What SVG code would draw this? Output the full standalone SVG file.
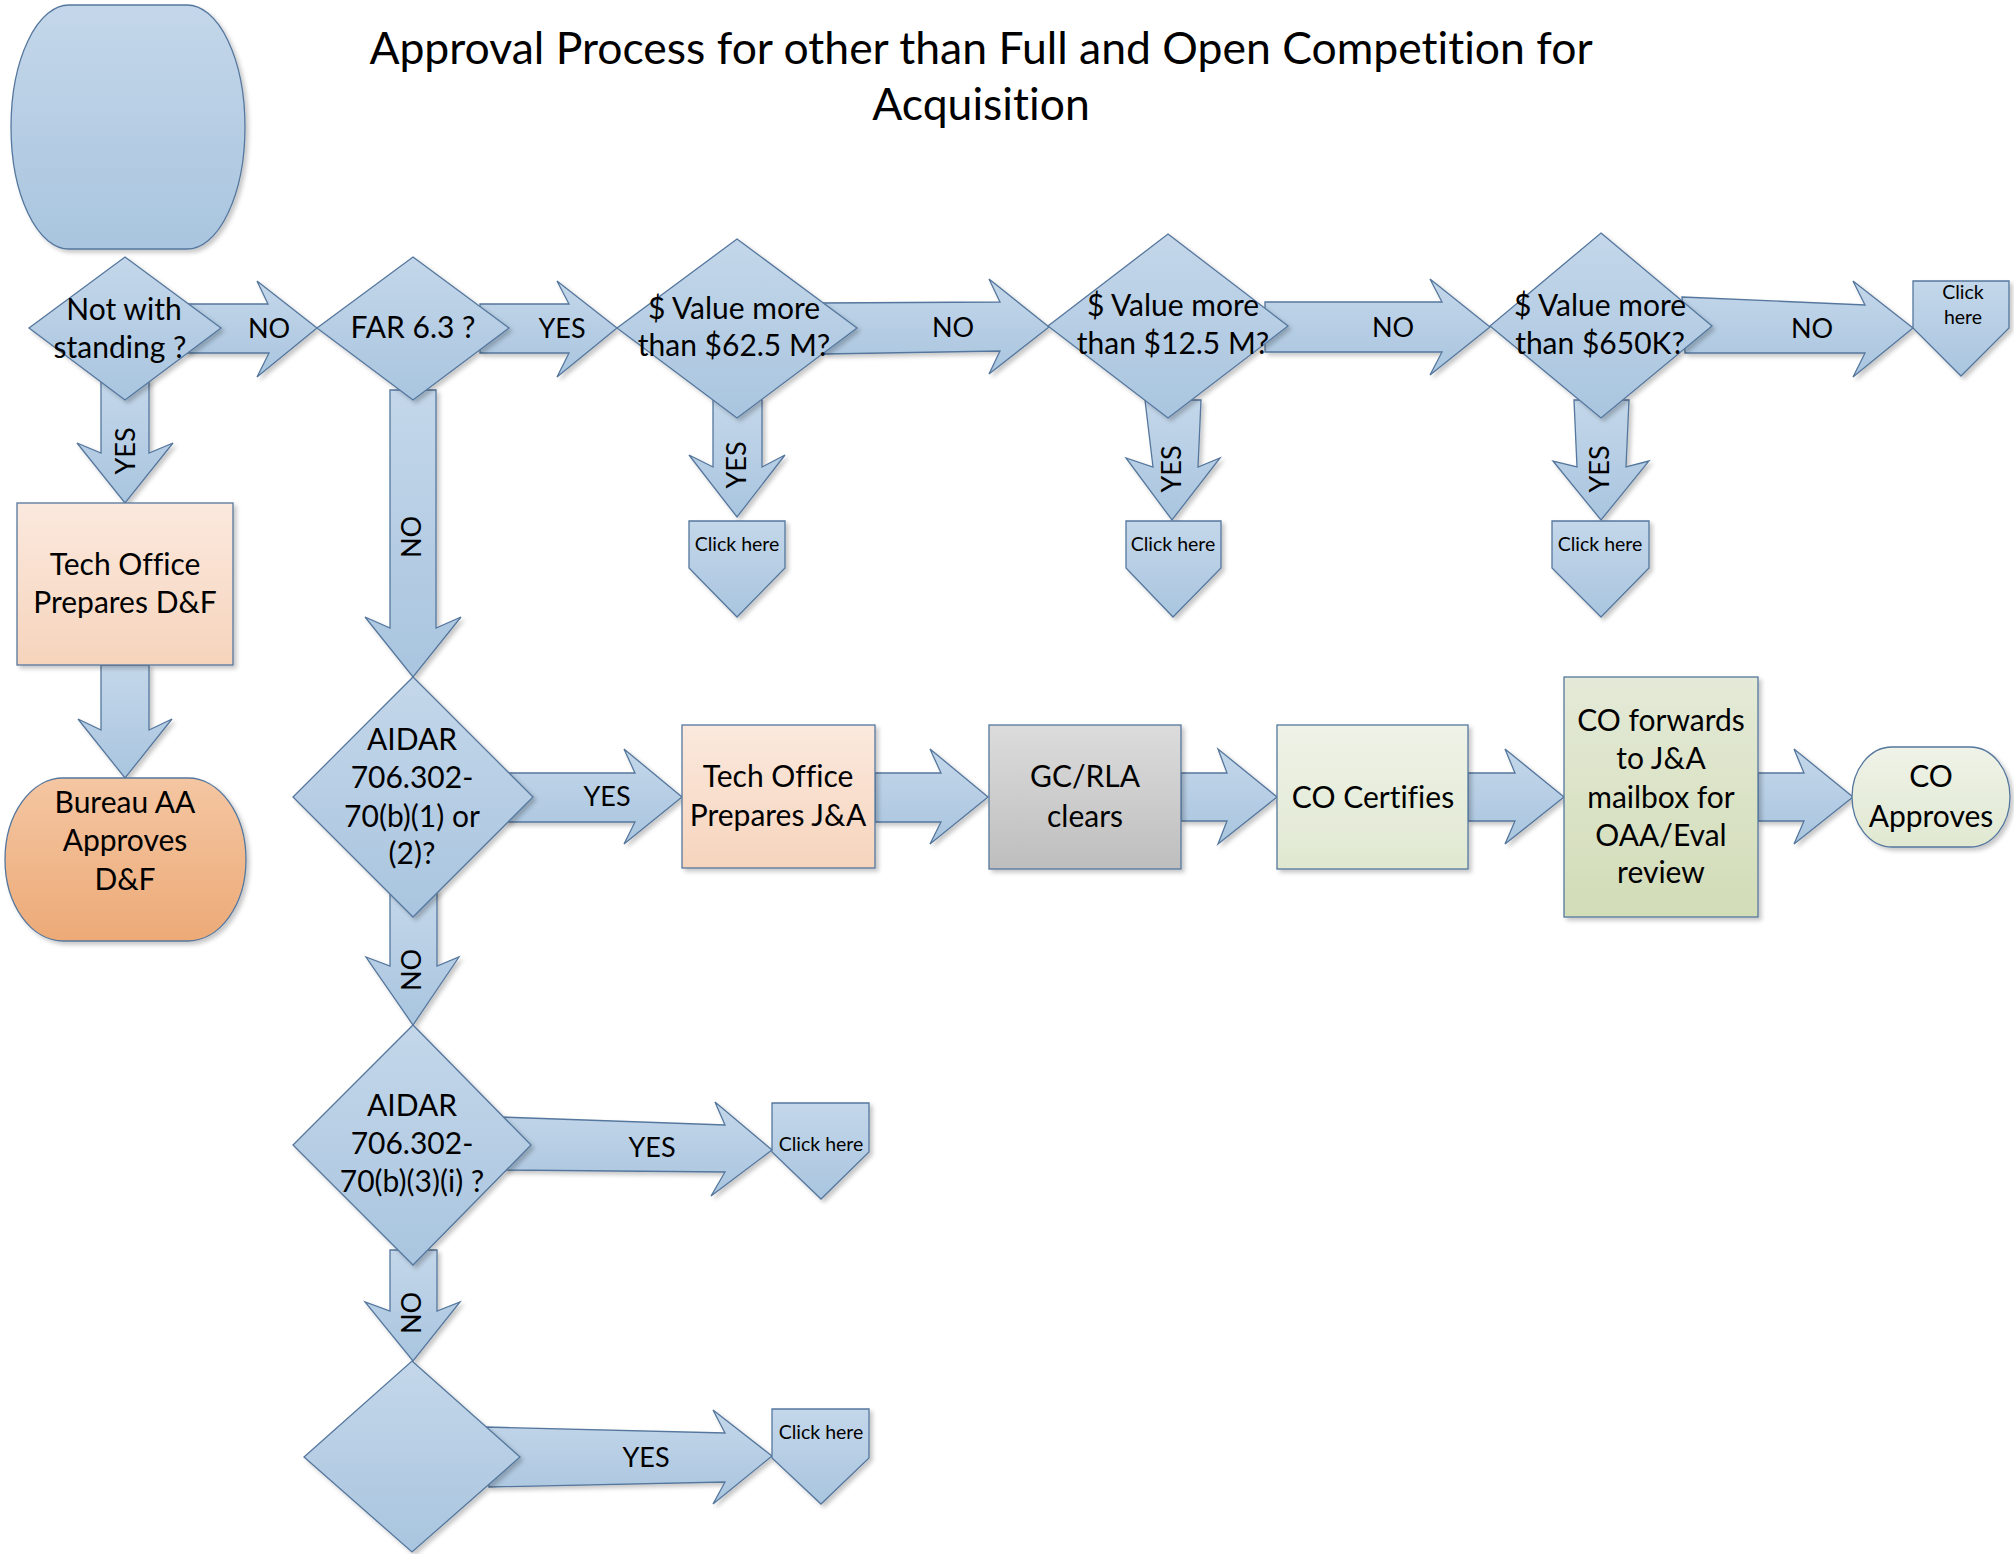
<svg xmlns="http://www.w3.org/2000/svg" width="2014" height="1554" viewBox="0 0 2014 1554">
<defs>
<linearGradient id="gBlue" x1="0" y1="0" x2="0" y2="1"><stop offset="0" stop-color="#C4D7EA"/><stop offset="1" stop-color="#A9C5DF"/></linearGradient>
<linearGradient id="gPeach" x1="0" y1="0" x2="0" y2="1"><stop offset="0" stop-color="#FBE9DE"/><stop offset="1" stop-color="#F6D4BC"/></linearGradient>
<linearGradient id="gOrange" x1="0" y1="0" x2="0" y2="1"><stop offset="0" stop-color="#F4C6A2"/><stop offset="1" stop-color="#EDAA77"/></linearGradient>
<linearGradient id="gGray" x1="0" y1="0" x2="0" y2="1"><stop offset="0" stop-color="#DCDCDC"/><stop offset="1" stop-color="#BEBEBE"/></linearGradient>
<linearGradient id="gLGreen" x1="0" y1="0" x2="0" y2="1"><stop offset="0" stop-color="#EFF3E8"/><stop offset="1" stop-color="#E0E8D1"/></linearGradient>
<linearGradient id="gOGreen" x1="0" y1="0" x2="0" y2="1"><stop offset="0" stop-color="#E4EAD7"/><stop offset="1" stop-color="#D2DCB7"/></linearGradient>
<filter id="sh" x="-10%" y="-10%" width="130%" height="130%"><feDropShadow dx="3" dy="3" stdDeviation="2" flood-color="#000" flood-opacity="0.22"/></filter>
<style>
.blue{fill:url(#gBlue);stroke:#55779D;stroke-width:1.3;filter:url(#sh)}
.box{stroke:#55779D;stroke-width:1.3;filter:url(#sh)}
text{font-family:Lato,"Open Sans",sans-serif;fill:#000;text-anchor:middle;font-variant-ligatures:none}
.t{font-size:30px}
.lbl{font-size:27px}
.sm{font-size:19.5px}
.title{font-size:44.5px}
</style>
</defs>
<rect width="2014" height="1554" fill="#fff"/>
<g id="title">
<text class="title" x="981" y="64">Approval Process for other than Full and Open Competition for</text>
<text class="title" x="981" y="120">Acquisition</text>
</g>
<g id="connectors">
<path class="blue" d="M185,304 L268,304 L257,281 L317,328 L257,377 L269,353 L185,353 Z"/>
<path class="blue" d="M480,304 L569,304 L557,281 L617,328 L557,377 L569,353 L480,353 Z"/>
<path class="blue" d="M820,303 L1000,302 L989,279 L1049,327 L989,374 L1000,351 L825,354 Z"/>
<path class="blue" d="M1265,302 L1442,302 L1430,279 L1490,327 L1430,375 L1442,352 L1265,352 Z"/>
<path class="blue" d="M1682,297 L1865,305 L1853,281 L1913,328 L1853,377 L1865,353 L1685,353 Z"/>
<path class="blue" d="M101,380 L101,453 L77,443 L125,503 L173,443 L149,453 L149,380 Z"/>
<path class="blue" d="M101,665 L101,730 L78,719 L125,778 L172,719 L149,730 L149,665 Z"/>
<path class="blue" d="M390,390 L390,628 L365,617 L413,677 L461,617 L436,628 L436,390 Z"/>
<path class="blue" d="M713,400 L713,467 L689,455 L737,517 L785,455 L762,467 L762,400 Z"/>
<path class="blue" d="M1145,400 L1153,467 L1126,458 L1172,520 L1220,458 L1198,467 L1201,400 Z"/>
<path class="blue" d="M1574,400 L1577,467 L1553,461 L1601,520 L1649,461 L1626,467 L1629,400 Z"/>
<path class="blue" d="M390,890 L390,966 L366,957 L413,1025 L459,957 L437,966 L437,890 Z"/>
<path class="blue" d="M390,1250 L390,1311 L365,1302 L413,1361 L460,1302 L437,1311 L437,1250 Z"/>
<path class="blue" d="M505,773 L635,773 L624,749 L682,797 L624,844 L635,822 L505,822 Z"/>
<path class="blue" d="M875,773 L941,773 L930,749 L988,797 L930,844 L941,822 L875,822 Z"/>
<path class="blue" d="M1181,773 L1227,773 L1218,749 L1277,797 L1218,844 L1227,821 L1181,821 Z"/>
<path class="blue" d="M1468,773 L1515,773 L1505,749 L1564,797 L1505,844 L1515,821 L1468,821 Z"/>
<path class="blue" d="M1758,773 L1804,773 L1794,749 L1853,797 L1794,844 L1804,821 L1758,821 Z"/>
<path class="blue" d="M500,1117 L725,1125 L715,1102 L772,1150 L711,1196 L725,1172 L505,1170 Z"/>
<path class="blue" d="M485,1427 L725,1433 L713,1410 L772,1456 L713,1504 L725,1482 L489,1487 Z"/>
<text class="lbl" x="269" y="338">NO</text>
<text class="lbl" x="562" y="338">YES</text>
<text class="lbl" x="953" y="337">NO</text>
<text class="lbl" x="1393" y="337">NO</text>
<text class="lbl" x="1812" y="338">NO</text>
<text class="lbl" x="607" y="806">YES</text>
<text class="lbl" x="652" y="1157">YES</text>
<text class="lbl" x="646" y="1467">YES</text>
<text class="lbl" transform="translate(125,451) rotate(-90)" y="10">YES</text>
<text class="lbl" transform="translate(411,537) rotate(-90)" y="10">NO</text>
<text class="lbl" transform="translate(736,465) rotate(-90)" y="10">YES</text>
<text class="lbl" transform="translate(1171,469) rotate(-90)" y="10">YES</text>
<text class="lbl" transform="translate(1599,469) rotate(-90)" y="10">YES</text>
<text class="lbl" transform="translate(411,970) rotate(-90)" y="10">NO</text>
<text class="lbl" transform="translate(411,1313) rotate(-90)" y="10">NO</text>
</g>
<g id="start">
<path class="blue" d="M69,5 L187,5 A58,122 0 0 1 187,249 L69,249 A58,122 0 0 1 69,5 Z"/>
</g>
<g id="d-notwithstanding">
<polygon class="blue" points="125,257 221,328 125,400 29,328"/>
<text class="t" x="124" y="320">Not with</text>
<text class="t" x="120" y="358">standing ?</text>
</g>
<g id="d-far">
<polygon class="blue" points="413,257 509,328 413,400 317,328"/>
<text class="t" x="413" y="338">FAR 6.3 ?</text>
</g>
<g id="d-625">
<polygon class="blue" points="737,239 857,328 737,418 617,328"/>
<text class="t" x="734" y="319">$ Value more</text>
<text class="t" x="734" y="356">than $62.5 M?</text>
</g>
<g id="d-125">
<polygon class="blue" points="1168,234 1288,326 1168,418 1048,326"/>
<text class="t" x="1173" y="316">$ Value more</text>
<text class="t" x="1173" y="354">than $12.5 M?</text>
</g>
<g id="d-650k">
<polygon class="blue" points="1601,233 1712,326 1601,418 1490,326"/>
<text class="t" x="1600" y="316">$ Value more</text>
<text class="t" x="1600" y="354">than $650K?</text>
</g>
<g id="click-625">
<path class="blue" d="M689,521 L785,521 L785,568 L737,617 L689,568 Z"/>
<text class="sm" x="737" y="551">Click here</text>
</g>
<g id="click-125">
<path class="blue" d="M1126,521 L1221,521 L1221,568 L1173,617 L1126,568 Z"/>
<text class="sm" x="1173" y="551">Click here</text>
</g>
<g id="click-650k">
<path class="blue" d="M1552,521 L1649,521 L1649,568 L1601,617 L1552,568 Z"/>
<text class="sm" x="1600" y="551">Click here</text>
</g>
<g id="click-below650k">
<path class="blue" d="M1913,281 L2009,281 L2009,328 L1961,376 L1913,328 Z"/>
<text class="sm" x="1963" y="299">Click</text>
<text class="sm" x="1963" y="324">here</text>
</g>
<g id="tech-df">
<rect class="box" x="17" y="503" width="216" height="162" fill="url(#gPeach)"/>
<text class="t" x="125" y="575">Tech Office</text>
<text class="t" x="125" y="613">Prepares D&amp;F</text>
</g>
<g id="bureau-aa">
<path class="box" fill="url(#gOrange)" d="M63,778 L188,778 A58,81.5 0 0 1 188,941 L63,941 A58,81.5 0 0 1 63,778 Z"/>
<text class="t" x="125" y="813">Bureau AA</text>
<text class="t" x="125" y="851">Approves</text>
<text class="t" x="125" y="890">D&amp;F</text>
</g>
<g id="d-aidar1">
<polygon class="blue" points="413,677 533,797 413,917 293,797"/>
<text class="t" x="412" y="750">AIDAR</text>
<text class="t" x="412" y="788">706.302-</text>
<text class="t" x="412" y="827">70(b)(1) or</text>
<text class="t" x="412" y="864">(2)?</text>
</g>
<g id="tech-ja">
<rect class="box" x="682" y="725" width="193" height="143" fill="url(#gPeach)"/>
<text class="t" x="778" y="787">Tech Office</text>
<text class="t" x="778" y="826">Prepares J&amp;A</text>
</g>
<g id="gc-rla">
<rect class="box" x="989" y="725" width="192" height="144" fill="url(#gGray)"/>
<text class="t" x="1085" y="787">GC/RLA</text>
<text class="t" x="1085" y="827">clears</text>
</g>
<g id="co-certifies">
<rect class="box" x="1277" y="725" width="191" height="144" fill="url(#gLGreen)"/>
<text class="t" x="1373" y="808">CO Certifies</text>
</g>
<g id="co-forwards">
<rect class="box" x="1564" y="677" width="194" height="240" fill="url(#gOGreen)"/>
<text class="t" x="1661" y="731">CO forwards</text>
<text class="t" x="1661" y="769">to J&amp;A</text>
<text class="t" x="1661" y="808">mailbox for</text>
<text class="t" x="1661" y="846">OAA/Eval</text>
<text class="t" x="1661" y="883">review</text>
</g>
<g id="co-approves">
<path class="box" fill="url(#gLGreen)" d="M1892,747 L1970,747 A40,50 0 0 1 1970,847 L1892,847 A40,50 0 0 1 1892,747 Z"/>
<text class="t" x="1931" y="787">CO</text>
<text class="t" x="1931" y="827">Approves</text>
</g>
<g id="d-aidar2">
<polygon class="blue" points="413,1025 531,1145 413,1265 293,1145"/>
<text class="t" x="412" y="1116">AIDAR</text>
<text class="t" x="412" y="1154">706.302-</text>
<text class="t" x="412" y="1192">70(b)(3)(i) ?</text>
</g>
<g id="click-aidar2">
<path class="blue" d="M772,1103 L869,1103 L869,1152 L821,1199 L772,1152 Z"/>
<text class="sm" x="821" y="1151">Click here</text>
</g>
<g id="d-blank">
<polygon class="blue" points="412,1361 520,1457 412,1552 304,1457"/>
</g>
<g id="click-blank">
<path class="blue" d="M772,1409 L869,1409 L869,1458 L821,1504 L772,1458 Z"/>
<text class="sm" x="821" y="1439">Click here</text>
</g>
</svg>
